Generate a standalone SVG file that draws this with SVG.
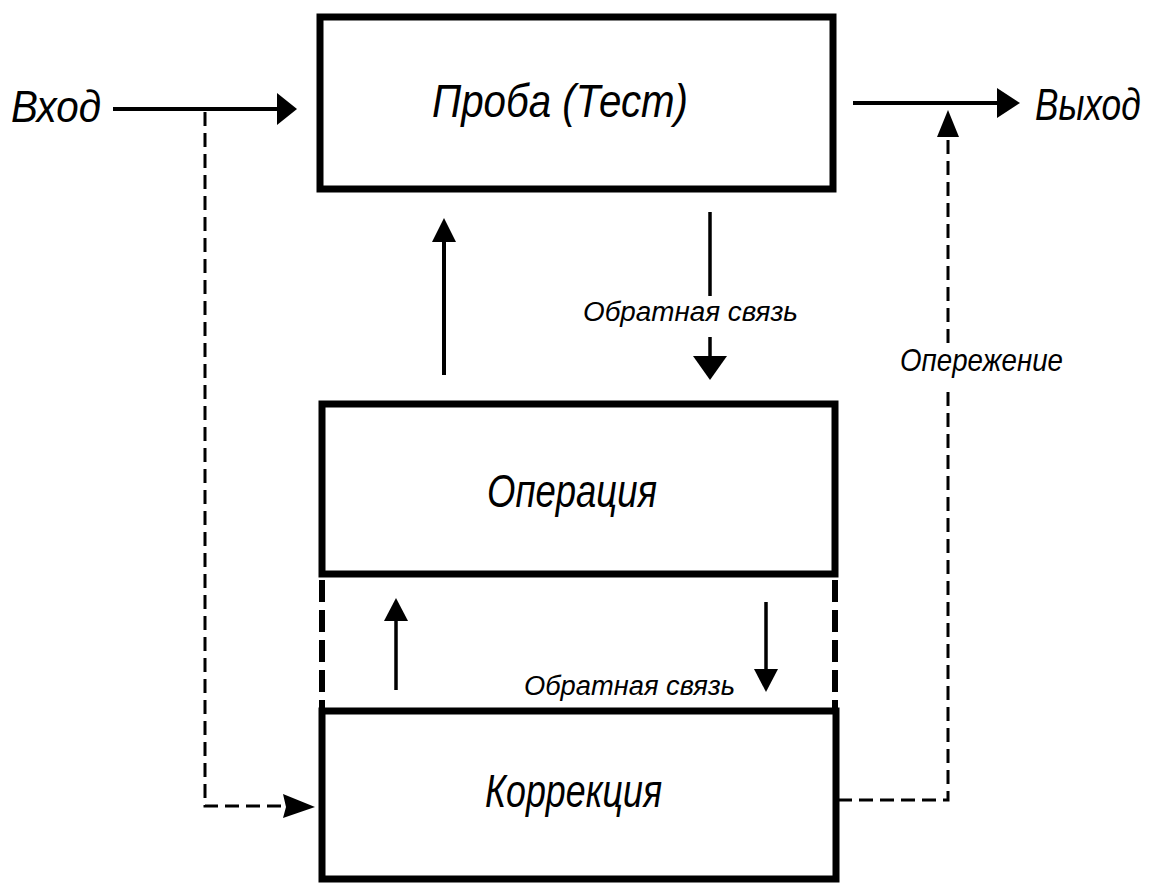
<svg xmlns="http://www.w3.org/2000/svg" width="1160" height="883" viewBox="0 0 1160 883">
  <style>
    .box { fill: #fff; stroke: #000; stroke-width: 7; }
    .lbl { font-family: "Liberation Sans", "DejaVu Sans", sans-serif; font-style: italic; fill: #000; }
    .big { font-size: 47px; }
    .mid { font-size: 44px; }
    .small { font-size: 27px; }
    .note { font-size: 32px; }
    .solid { stroke: #000; stroke-width: 4; fill: none; }
    .thin { stroke: #000; stroke-width: 3.5; fill: none; }
    .dash { stroke: #000; stroke-width: 3; fill: none; stroke-dasharray: 14 7; }
    .thickdash { stroke: #000; stroke-width: 6; fill: none; stroke-dasharray: 22 8; }
    .head { fill: #000; stroke: none; }
  </style>
  <rect width="1160" height="883" fill="#fff"/>

  <!-- blocks -->
  <g id="test">
    <rect class="box" x="320" y="17" width="513" height="172"/>
    <text class="lbl big" x="432" y="117" textLength="256" lengthAdjust="spacingAndGlyphs">Проба (Тест)</text>
  </g>
  <g id="operation">
    <rect class="box" x="322" y="404" width="513" height="170"/>
    <text class="lbl big" x="487" y="507" textLength="170" lengthAdjust="spacingAndGlyphs">Операция</text>
  </g>
  <g id="correction">
    <rect class="box" x="322" y="711" width="514" height="168"/>
    <text class="lbl big" x="485" y="807" textLength="177" lengthAdjust="spacingAndGlyphs">Коррекция</text>
  </g>

  <!-- terminals -->
  <g id="input">
    <text class="lbl mid" x="11" y="122" textLength="90" lengthAdjust="spacingAndGlyphs">Вход</text>
  </g>
  <g id="output">
    <!-- narrowed by a horizontal scale so the word fits the right margin -->
    <text class="lbl mid" transform="translate(1035,120) scale(0.8,1)">Выход</text>
  </g>

  <!-- connectors -->
  <g id="connectors">
    <!-- input to test -->
    <line class="solid" x1="113" y1="109" x2="279" y2="109"/>
    <polygon class="head" points="297,109 277,93 277,125"/>

    <!-- test to output -->
    <line class="solid" x1="853" y1="103" x2="999" y2="103"/>
    <polygon class="head" points="1020,103 997,88 997,118"/>

    <!-- operation up to test -->
    <line class="solid" x1="444" y1="240" x2="444" y2="375"/>
    <polygon class="head" points="444,218 432,242 456,242"/>

    <!-- feedback: test down to operation -->
    <line class="thin" x1="710" y1="212" x2="710" y2="296"/>
    <line class="thin" x1="710" y1="337" x2="710" y2="358"/>
    <polygon class="head" points="710,380 693,356 727,356"/>
    <text class="lbl small" x="583" y="321" textLength="215" lengthAdjust="spacingAndGlyphs">Обратная связь</text>

    <!-- link between operation and correction -->
    <line class="thickdash" x1="322" y1="580" x2="322" y2="708"/>
    <line class="thickdash" x1="835" y1="580" x2="835" y2="708"/>

    <!-- correction up to operation -->
    <line class="thin" x1="396" y1="618" x2="396" y2="690"/>
    <polygon class="head" points="396,598 384,621 408,621"/>

    <!-- feedback: operation down to correction -->
    <line class="thin" x1="766" y1="602" x2="766" y2="672"/>
    <polygon class="head" points="766,692 754,669 778,669"/>
    <text class="lbl small" x="524" y="695" textLength="211" lengthAdjust="spacingAndGlyphs">Обратная связь</text>

    <!-- input branch to correction -->
    <polyline class="dash" points="205,112 205,806 284,806"/>
    <polygon class="head" points="315,807 283,794 286,807 283,818"/>

    <!-- feed-forward: correction to output -->
    <polyline class="dash" points="838,800 948,800 948,388"/>
    <line class="dash" x1="948" y1="343" x2="948" y2="135"/>
    <polygon class="head" points="948,110 937,137 959,137"/>
    <text class="lbl note" x="900" y="371" textLength="163" lengthAdjust="spacingAndGlyphs">Опережение</text>
  </g>
</svg>
